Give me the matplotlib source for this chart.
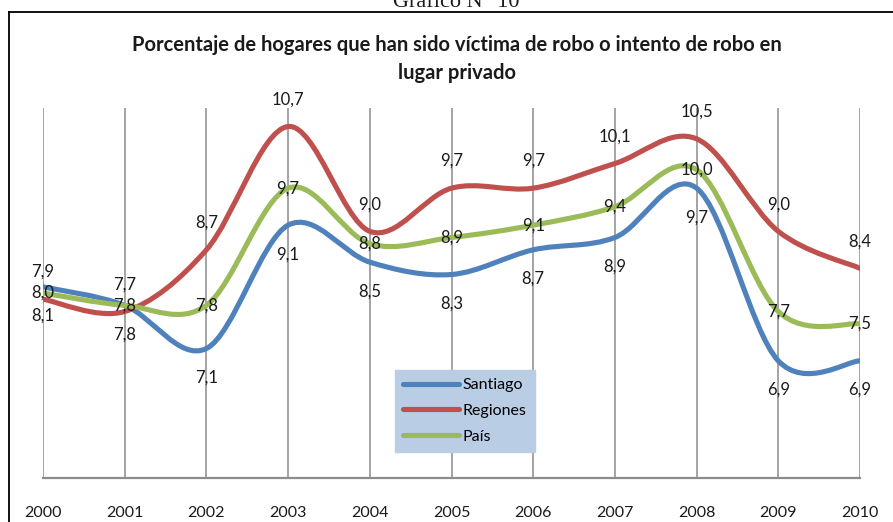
import matplotlib
matplotlib.use("Agg")
import matplotlib.pyplot as plt
import numpy as np
from matplotlib.path import Path
from matplotlib.patches import PathPatch
from matplotlib.lines import Line2D

years = [2000, 2001, 2002, 2003, 2004, 2005, 2006, 2007, 2008, 2009, 2010]
santiago = [8.1, 7.8, 7.1, 9.1, 8.5, 8.3, 8.7, 8.9, 9.7, 6.9, 6.9]
regiones = [7.9, 7.7, 8.7, 10.7, 9.0, 9.7, 9.7, 10.1, 10.5, 9.0, 8.4]
pais = [8.0, 7.8, 7.8, 9.7, 8.8, 8.9, 9.1, 9.4, 10.0, 7.7, 7.5]

TITLE = "Porcentaje de hogares que han sido víctima de robo o intento de robo en\nlugar privado"
FONT = "Lato"
W, H = 893, 522

BLUE = "#4F81BD"
RED = "#C0504D"
GREEN = "#9BBB59"
GRID = "#8C8C8C"
LEGEND_BG = "#B9CDE5"


def smooth_path(x, y):
    """Excel-like smoothed line: Catmull-Rom segments as cubic Beziers."""
    pts = np.column_stack([x, y]).astype(float)
    ext = np.vstack([pts[0], pts, pts[-1]])
    verts = [pts[0]]
    codes = [Path.MOVETO]
    for i in range(len(pts) - 1):
        p0, p1, p2, p3 = ext[i], ext[i + 1], ext[i + 2], ext[i + 3]
        verts += [p1 + (p2 - p0) / 6, p2 - (p3 - p1) / 6, p2]
        codes += [Path.CURVE4] * 3
    return Path(verts, codes)


fig = plt.figure(figsize=(W / 100, H / 100), dpi=100)
ax = fig.add_axes([43 / W, 1 - 478 / H, (860 - 43) / W, (478 - 108) / H])

series = [
    ("Santiago", santiago, BLUE, -21),
    ("Regiones", regiones, RED, 19.5),
    ("País", pais, GREEN, 0),
]

for name, vals, color, dy in series:
    ax.add_patch(PathPatch(smooth_path(years, vals), facecolor="none",
                           edgecolor=color, lw=3.7, capstyle="round",
                           joinstyle="round", zorder=3))
    ax.plot([], [], color=color, lw=3.7, solid_capstyle="round", label=name)
    for x, v in zip(years, vals):
        ax.annotate(f"{v:.1f}".replace(".", ","), (x, v), xytext=(0, dy),
                    textcoords="offset points", ha="center", va="center",
                    fontsize=12, family=FONT, color="#1a1a1a", zorder=4)

ax.set_xlim(years[0], years[-1])
ax.set_ylim(5, 11)
ax.set_xticks(years)
ax.set_xticklabels([str(y) for y in years], fontsize=11.5, family=FONT, color="#1a1a1a")
ax.tick_params(axis="x", length=0, pad=20)
ax.set_yticks([])
for yr in years:
    ax.axvline(yr, color=GRID, lw=1.1, zorder=1)
for side in ("top", "right", "left"):
    ax.spines[side].set_visible(False)
ax.spines["bottom"].set_color(GRID)
ax.spines["bottom"].set_linewidth(1.6)

leg = ax.legend(loc="upper left", bbox_to_anchor=(395 / W, 1 - 370 / H),
                bbox_transform=fig.transFigure, borderaxespad=0,
                prop={"family": FONT, "size": 11.5}, frameon=True, fancybox=False,
                facecolor=LEGEND_BG, edgecolor=LEGEND_BG, framealpha=1,
                handlelength=3.5, handletextpad=0.25, labelspacing=0.72,
                borderpad=0.5)
leg.set_zorder(5)

fig.text(457 / W, 1 - 59 / H, TITLE, ha="center", va="center", fontsize=14.5,
         fontweight="bold", family=FONT, color="#1a1a1a", linespacing=1.45)
fig.text(456 / W, 1 - 7 / H, "Gráfico N° 10", ha="center", va="baseline",
         fontsize=16, family="Liberation Serif", color="#1a1a1a")

# chart frame (left and top edges visible)
fig.add_artist(Line2D([9 / W, 9 / W], [0, 1 - 12 / H], color="black", lw=1.3))
fig.add_artist(Line2D([9 / W, 1], [1 - 12 / H, 1 - 12 / H], color="black", lw=1.3))

fig.savefig("out.png", dpi=100)
